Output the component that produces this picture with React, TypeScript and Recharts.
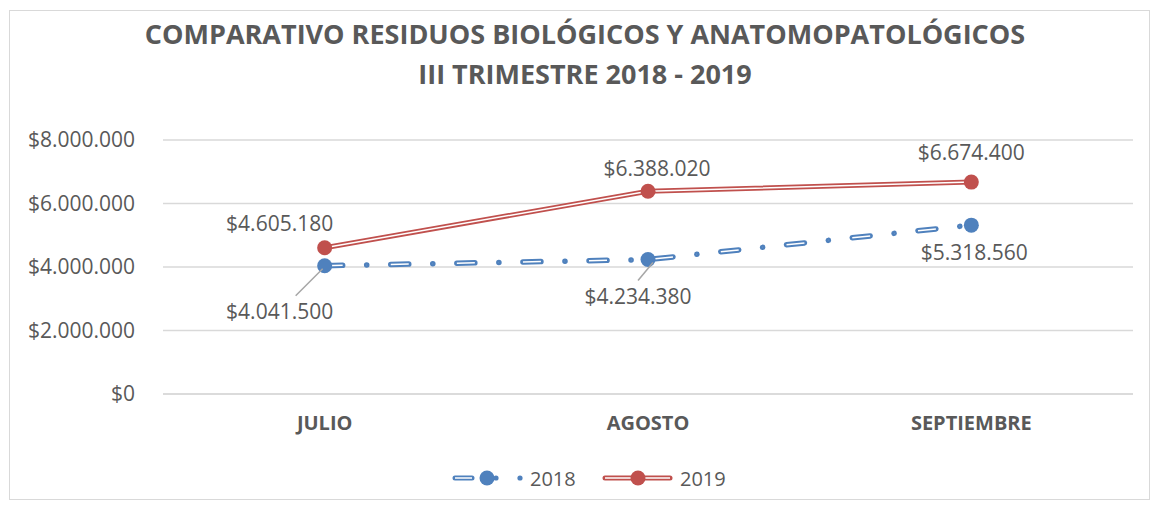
import React from 'react';
import { LineChart, Line, XAxis, YAxis, CartesianGrid } from 'recharts';

const months = ['JULIO', 'AGOSTO', 'SEPTIEMBRE'];
const values2018 = [4041500, 4234380, 5318560];
const values2019 = [4605180, 6388020, 6674400];
const yTicks = [0, 2000000, 4000000, 6000000, 8000000];

const BLUE = '#4F81BD';
const RED = '#C0504D';
const TEXT = '#595959';
const GRID = '#D9D9D9';
const FONT = '"Open Sans", "Liberation Sans", sans-serif';

const data = months.map((m, i) => ({ mes: m, y2018: values2018[i], y2019: values2019[i] }));

const money = (v: number) => '$' + String(Math.round(v)).replace(/\B(?=(\d{3})+(?!\d))/g, '.');

// label offsets relative to the point (dx, dy of text centre)
const off2019 = [[-45, -25], [9, -23], [0, -30]];
const off2018 = [[-45, 45], [-10, 36], [3, 27]];

const label2019 = (props: any) => {
  const { x, y, value, index } = props;
  const [dx, dy] = off2019[index];
  return (
    <text x={x + dx} y={y + dy} textAnchor="middle" dominantBaseline="central"
      fill={TEXT} fontSize={21} fontFamily={FONT}>{money(value)}</text>
  );
};

const label2018 = (props: any) => {
  const { x, y, value, index } = props;
  const [dx, dy] = off2018[index];
  return (
    <g>
      {index < 2 && (
        <line x1={x + dx + (index === 0 ? 16 : 0)} y1={y + dy - 15} x2={x + (index === 0 ? -2 : 5)} y2={y + 3}
          stroke="#A6A6A6" strokeWidth={1.5} />
      )}
      <text x={x + dx} y={y + dy} textAnchor="middle" dominantBaseline="central"
        fill={TEXT} fontSize={21} fontFamily={FONT}>{money(value)}</text>
    </g>
  );
};

const LegendBox = () => (
  <svg width={1158} height={30}>
    <g>
      <line x1={455} y1={15} x2={472} y2={15} stroke={BLUE} strokeWidth={5} strokeLinecap="round" />
      <line x1={455} y1={15} x2={472} y2={15} stroke="#fff" strokeWidth={1.5} />
      <circle cx={487} cy={15} r={7.5} fill={BLUE} />
      <circle cx={496} cy={15} r={2.6} fill={BLUE} />
      <circle cx={520} cy={15} r={2.6} fill={BLUE} />
      <text x={530} y={15} dominantBaseline="central" fill={TEXT} fontSize={20} fontFamily={FONT}>2018</text>
    </g>
    <g>
      <line x1={605} y1={15} x2={670} y2={15} stroke={RED} strokeWidth={5} strokeLinecap="round" />
      <line x1={605} y1={15} x2={670} y2={15} stroke="#fff" strokeWidth={1.5} />
      <circle cx={638} cy={15} r={7.5} fill={RED} />
      <text x={680} y={15} dominantBaseline="central" fill={TEXT} fontSize={20} fontFamily={FONT}>2019</text>
    </g>
  </svg>
);

export default function App() {
  return (
    <div style={{ position: 'relative', width: 1158, height: 508, background: '#fff', fontFamily: FONT }}>
      <style>{'body{margin:0}'}</style>
      <div style={{ position: 'absolute', left: 9, top: 10, width: 1139, height: 488, border: '1.5px solid #D9D9D9' }} />
      <div style={{
        position: 'absolute', left: 0, top: 14, width: 1170, textAlign: 'center', color: TEXT,
        fontWeight: 700, fontSize: 27, lineHeight: '40px', fontFamily: FONT,
      }}>
        COMPARATIVO RESIDUOS BIOLÓGICOS Y ANATOMOPATOLÓGICOS<br />III TRIMESTRE 2018 - 2019
      </div>
      <div style={{ position: 'absolute', left: 0, top: 0 }}>
        <LineChart width={1158} height={508} data={data} margin={{ top: 140, right: 25, bottom: 54, left: 23 }}>
          <CartesianGrid vertical={false} stroke={GRID} strokeWidth={1.5} />
          <XAxis dataKey="mes" scale="band" height={60} axisLine={{ stroke: GRID, strokeWidth: 1.5 }} tickLine={false}
            tickMargin={16} tick={{ fill: TEXT, fontSize: 20, fontWeight: 700, fontFamily: FONT }} />
          <YAxis width={140} domain={[0, 8000000]} ticks={yTicks} tickFormatter={money} axisLine={false}
            tickLine={false} tickMargin={22} tick={{ fill: TEXT, fontSize: 21, fontFamily: FONT }} />
          <Line dataKey="y2018" stroke={BLUE} strokeWidth={5.5} strokeDasharray="18 24 0.1 24"
            strokeLinecap="round" dot={false} isAnimationActive={false} />
          <Line dataKey="y2018" stroke="#fff" strokeWidth={1.5} strokeDasharray="18 24 0.1 24"
            dot={{ r: 7.5, fill: BLUE, stroke: BLUE, strokeWidth: 0 }} label={label2018} isAnimationActive={false} />
          <Line dataKey="y2019" stroke={RED} strokeWidth={5} dot={false} isAnimationActive={false} />
          <Line dataKey="y2019" stroke="#fff" strokeWidth={1.5}
            dot={{ r: 7.5, fill: RED, stroke: RED, strokeWidth: 0 }} label={label2019} isAnimationActive={false} />
        </LineChart>
      </div>
      <div style={{ position: 'absolute', left: 0, top: 463 }}>
        <LegendBox />
      </div>
    </div>
  );
}
